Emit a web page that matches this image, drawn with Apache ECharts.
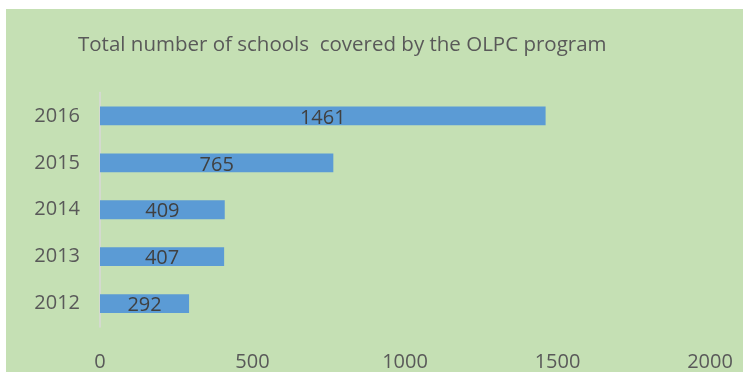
<!DOCTYPE html>
<html>
<head>
<meta charset="utf-8">
<script src="https://cdn.jsdelivr.net/npm/echarts@6/dist/echarts.min.js"></script>
<style>
html,body{margin:0;padding:0;background:#fff;}
#c{position:absolute;left:6px;top:9px;width:737px;height:363px;}
</style>
</head>
<body>
<div id="c"></div>
<script>
const categories = ['2012', '2013', '2014', '2015', '2016'];
const values = [292, 407, 409, 765, 1461];
const xTicks = [0, 500, 1000, 1500, 2000];

const chart = echarts.init(document.getElementById('c'));
chart.setOption({
  backgroundColor: '#c5e0b4',
  animation: false,
  title: {
    text: 'Total number of schools  covered by the OLPC program',
    left: 67,
    top: 21,
    textStyle: {color: '#595959', fontSize: 20.5, fontWeight: 'normal', fontFamily: 'Open Sans'}
  },
  grid: {left: 94, right: 33, top: 83.5, bottom: 44.5, containLabel: false},
  xAxis: {
    type: 'value', min: xTicks[0], max: xTicks[xTicks.length - 1], interval: 500,
    axisLine: {show: false}, axisTick: {show: false},
    splitLine: {show: false},
    axisLabel: {color: '#595959', fontSize: 20, fontFamily: 'Open Sans', margin: 25,
      formatter: v => String(v)}
  },
  yAxis: {
    type: 'category', data: categories,
    axisLine: {show: true, lineStyle: {color: '#d9d9d9', width: 1.5}},
    axisTick: {show: false},
    axisLabel: {color: '#595959', fontSize: 20, fontFamily: 'Open Sans', margin: 20}
  },
  series: [{
    type: 'bar', data: values, barWidth: '40%',
    itemStyle: {color: '#5b9bd5'},
    label: {show: true, position: 'inside', offset: [0, 2], color: '#404040', fontSize: 20, fontFamily: 'Open Sans'}
  }]
});
</script>
</body>
</html>
